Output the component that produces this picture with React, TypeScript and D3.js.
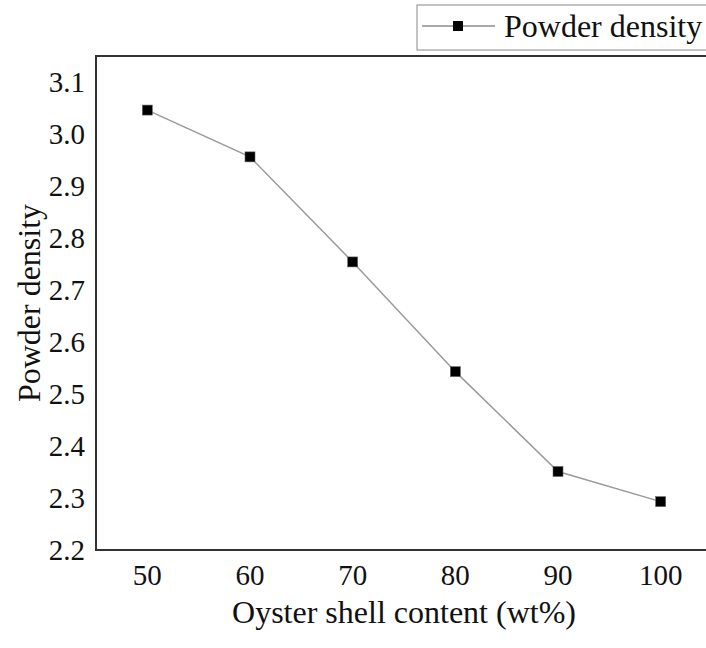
import { line, scaleLinear } from "d3";
import type { ReactElement } from "react";

const contents = [50, 60, 70, 80, 90, 100];
const densities = [3.046, 2.956, 2.754, 2.543, 2.351, 2.293];
const yTicks = [2.2, 2.3, 2.4, 2.5, 2.6, 2.7, 2.8, 2.9, 3.0, 3.1];
const xTicks = [50, 60, 70, 80, 90, 100];
const seriesName = "Powder density";
const xTitle = "Oyster shell content (wt%)";
const yTitle = "Powder density";

const WIDTH = 706;
const HEIGHT = 648;
const LEFT = 96;
const RIGHT = 712;
const TOP = 56;
const BOTTOM = 550;
const FONT = "Liberation Serif";
const MARK = 10;

export default function App(): ReactElement {
  const x = scaleLinear().domain([45, 105]).range([LEFT, RIGHT]);
  const y = scaleLinear().domain([2.2, 3.15]).range([BOTTOM, TOP]);

  const pts = contents.map((c, i) => [x(c), y(densities[i])] as [number, number]);
  const path = line()(pts) ?? "";

  return (
    <div style={{ position: "fixed", left: 0, top: 0 }}>
      <svg
        width={WIDTH}
        height={HEIGHT}
        style={{ display: "block", background: "#fff", fontFamily: FONT }}
      >
        <rect x={0} y={0} width={WIDTH} height={HEIGHT} fill="#fff" />

        {/* axes frame (right side runs off the page) */}
        <rect
          x={LEFT}
          y={TOP}
          width={RIGHT - LEFT}
          height={BOTTOM - TOP}
          fill="none"
          stroke="#333"
          strokeWidth={2}
        />

        {yTicks.map((t) => (
          <text
            key={`y${t}`}
            x={LEFT - 11}
            y={y(t)}
            dy="0.35em"
            textAnchor="end"
            fontSize={29}
            fill="#111"
          >
            {t.toFixed(1)}
          </text>
        ))}

        {xTicks.map((t) => (
          <text
            key={`x${t}`}
            x={x(t)}
            y={BOTTOM + 35}
            textAnchor="middle"
            fontSize={29}
            fill="#111"
          >
            {t}
          </text>
        ))}

        <text x={(LEFT + RIGHT) / 2} y={623} textAnchor="middle" fontSize={32} fill="#111">
          {xTitle}
        </text>

        <text
          transform={`translate(40, ${(TOP + BOTTOM) / 2}) rotate(-90)`}
          textAnchor="middle"
          fontSize={32}
          fill="#111"
        >
          {yTitle}
        </text>

        <path d={path} fill="none" stroke="#9a9a9a" strokeWidth={1.5} />
        {pts.map(([px, py], i) => (
          <rect
            key={`m${i}`}
            x={px - MARK / 2}
            y={py - MARK / 2}
            width={MARK}
            height={MARK}
            fill="#000"
            stroke="#666"
            strokeWidth={0.6}
          />
        ))}

        {/* legend */}
        <rect x={417} y={5} width={290} height={45} fill="#fff" stroke="#888" strokeWidth={1} />
        <line x1={422} x2={495} y1={26} y2={26} stroke="#555" strokeWidth={1} />
        <rect x={458 - MARK / 2} y={26 - MARK / 2} width={MARK} height={MARK} fill="#000" />
        <text x={504} y={37} fontSize={32} fill="#111">
          {seriesName}
        </text>
      </svg>
    </div>
  );
}
